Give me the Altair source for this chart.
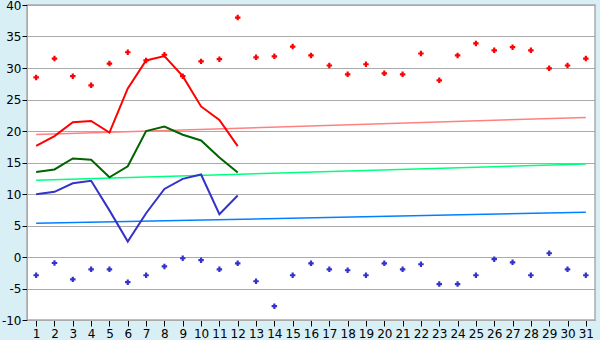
import altair as alt
import pandas as pd

days = list(range(1, 32))
max_pts = [28.5, 31.5, 28.7, 27.25, 30.7, 32.5, 31.2, 32.1, 28.7, 31.05, 31.4, 38.0,
           31.7, 31.85, 33.4, 32.0, 30.4, 29.0, 30.6, 29.15, 29.0, 32.3, 28.05, 32.0,
           33.9, 32.8, 33.3, 32.8, 29.95, 30.4, 31.5]
min_pts = [-2.9, -0.95, -3.55, -1.95, -1.95, -4.0, -2.9, -1.5, -0.2, -0.5, -1.95, -1.0,
           -3.85, -7.8, -2.9, -1.0, -1.95, -2.1, -2.9, -1.0, -1.95, -1.15, -4.3, -4.3,
           -2.9, -0.35, -0.85, -2.9, 0.6, -1.95, -2.9]
line_days = list(range(1, 13))
max_line = [17.65, 19.2, 21.4, 21.6, 19.75, 26.75, 31.2, 31.9, 28.7, 23.9, 21.75, 17.6]
mean_line = [13.5, 13.9, 15.65, 15.45, 12.65, 14.4, 20.0, 20.7, 19.4, 18.5, 15.8, 13.4]
min_line = [9.95, 10.35, 11.7, 12.1, 7.4, 2.45, 6.95, 10.8, 12.4, 13.1, 6.8, 9.75]
trend_days = [1, 31]
trend_max = [19.45, 22.15]
trend_mean = [12.2, 14.75]
trend_min = [5.35, 7.1]

x_scale = alt.Scale(domain=[0.5, 31.5], nice=False, zero=False)
y_scale = alt.Scale(domain=[-10, 40], nice=False)

x_enc = alt.X("day:Q", scale=x_scale,
              axis=alt.Axis(values=days, title=None, grid=False, format="d",
                            tickColor="black", tickSize=6, domainColor="#aaaaaa",
                            labelFont="DejaVu Sans", labelFontSize=12, labelColor="black",
                            labelPadding=2, labelFlush=False))
y_axis = alt.Axis(values=list(range(-10, 41, 5)), title=None, grid=True, gridColor="#aaaaaa",
                  tickColor="black", tickSize=5, domainColor="#aaaaaa",
                  labelExpr="datum.value < 0 ? '-' + abs(datum.value) : '' + datum.value",
                  labelFont="DejaVu Sans", labelFontSize=12, labelColor="black",
                  labelPadding=1, labelFlush=False)


def line(days_, vals, color, width):
    df = pd.DataFrame({"day": days_, "v": vals})
    return alt.Chart(df).mark_line(color=color, strokeWidth=width, clip=True).encode(
        x=x_enc, y=alt.Y("v:Q", scale=y_scale, axis=y_axis))


def pts(vals, color):
    df = pd.DataFrame({"day": days, "v": vals})
    return alt.Chart(df).mark_point(shape="cross", filled=True, color=color, size=30,
                                    opacity=1, strokeWidth=0).encode(
        x=x_enc, y=alt.Y("v:Q", scale=y_scale, axis=y_axis))


chart = alt.layer(
    line(trend_days, trend_max, "#ff8080", 1.5),
    line(trend_days, trend_mean, "#00ff80", 1.5),
    line(trend_days, trend_min, "#0080ff", 1.5),
    line(line_days, max_line, "#ff0000", 2),
    line(line_days, mean_line, "#006400", 2),
    line(line_days, min_line, "#3333cc", 2),
    pts(max_pts, "#ff0000"),
    pts(min_pts, "#3333cc"),
).properties(
    width=568, height=315,
    background="#d9eff6",
    padding={"left": 27, "top": 5, "right": 5, "bottom": 20},
    autosize=alt.AutoSizeParams(type="none"),
).configure_view(fill="white", stroke="#aaaaaa", strokeWidth=1.5)

chart.save("out.html", embed_options={"renderer": "svg", "actions": False})
